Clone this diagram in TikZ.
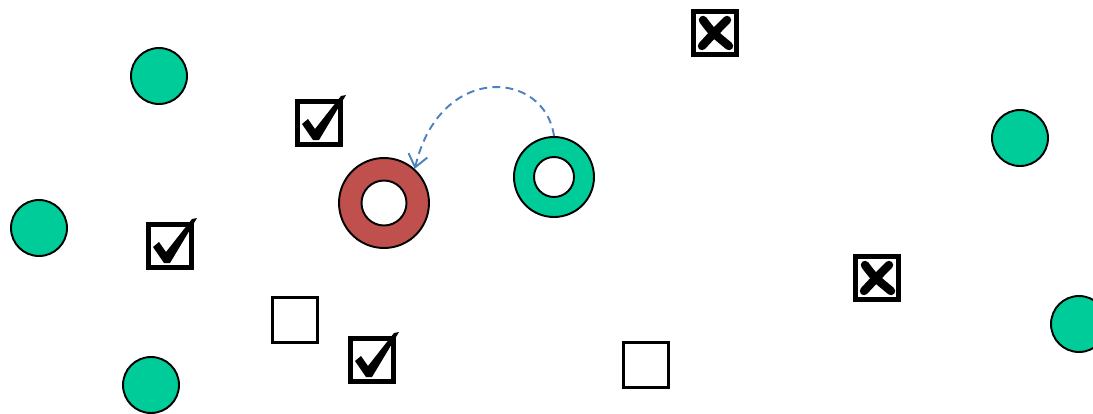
\documentclass[tikz,border=0pt]{standalone}
\usepackage{tikz}
\usetikzlibrary{arrows.meta}

\definecolor{dotgreen}{RGB}{0,204,153}
\definecolor{ringred}{RGB}{192,80,77}
\definecolor{moveblue}{RGB}{79,129,189}

\tikzset{
  dot/.style={circle,draw=black,line width=1.1pt,fill=dotgreen,minimum size=1.12cm,inner sep=0pt},
  hole/.style={circle,draw=black,line width=1.1pt,fill=white,inner sep=0pt},
  tickbox/.style={draw=black,line width=2.6pt,minimum size=0.87cm,inner sep=0pt},
  openbox/.style={draw=black,line width=1.9pt,minimum size=0.9cm,inner sep=0pt},
}

% check mark and cross inside a box node
\newcommand{\tickmark}[1]{%
  \fill[shift={(#1)}] (-17,1) -- (-11,-4) -- (-4,6) -- (22,-27) -- (27,-28)
    -- (0,17) -- (-6,17) -- cycle;}
\newcommand{\crossmark}[1]{%
  \draw[shift={(#1)},line width=4.8pt,line cap=round] (-12,-13) .. controls (-3,-1) .. (14,13)
    (12,-13) .. controls (0,-1) .. (-13,13);}

\begin{document}
\begin{tikzpicture}[x=0.02cm,y=-0.02cm]
\useasboundingbox (0,0) rectangle (1093,413);

% green dots
\node[dot] (d1) at (159,76) {};
\node[dot] (d2) at (39,228) {};
\node[dot] (d3) at (151,385) {};
\node[dot] (d4) at (1020,138) {};
\node[dot] (d5) at (1079,324) {};

% rings
\node[dot,fill=ringred,minimum size=1.8cm] (rring) at (384,203) {};
\node[hole,minimum size=0.9cm] (rhole) at (384,203) {};
\node[dot,minimum size=1.6cm] (gring) at (554,177) {};
\node[hole,minimum size=0.8cm] (ghole) at (554,177) {};

% checked boxes
\node[tickbox] (c1) at (319,123) {};
\node[tickbox] (c2) at (170,246) {};
\node[tickbox] (c3) at (372,360) {};
\tickmark{c1}
\tickmark{c2}
\tickmark{c3}

% crossed boxes
\node[tickbox] (x1) at (715,33) {};
\node[tickbox] (x2) at (877,278) {};
\crossmark{x1}
\crossmark{x2}

% empty boxes
\node[openbox] (e1) at (295,320) {};
\node[openbox] (e2) at (646,365) {};

% move
\draw[moveblue,line width=1.1pt,dash pattern=on 4.5pt off 3pt,-{Straight Barb[length=7pt,width=11pt]}]
  (gring.north) .. controls (545,70) and (440,62) .. (rring.48);
\end{tikzpicture}
\end{document}
